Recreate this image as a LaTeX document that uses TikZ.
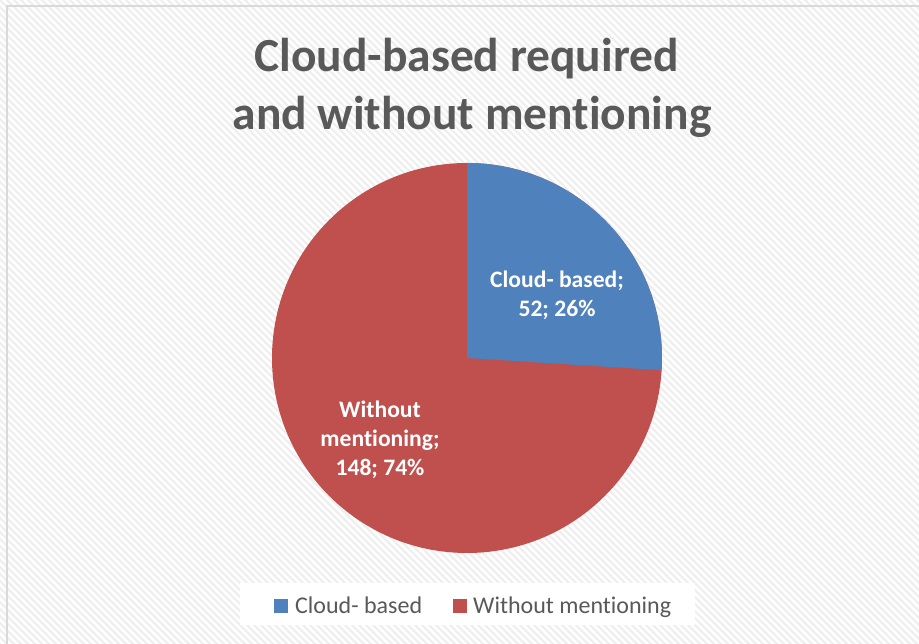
\documentclass[tikz,border=0pt]{standalone}
\usepackage{fontspec}
\setmainfont{Carlito}[RawFeature={-liga;-clig;-dlig;-calt}]
\newcommand{\tiX}{t\kern0pt i}
\definecolor{cblue}{HTML}{4F81BD}
\definecolor{cred}{HTML}{C0504D}
\definecolor{ctext}{HTML}{595959}
\definecolor{hatch}{HTML}{EFEFEF}
\definecolor{frame}{HTML}{D9D9D9}
\begin{document}
\begin{tikzpicture}[x=1pt,y=1pt,
  titletext/.style={inner sep=0pt,anchor=base,text=ctext,font=\fontsize{47.5}{54}\selectfont\bfseries},
  slicetext/.style={inner sep=0pt,anchor=base,text=white,font=\fontsize{23.6}{28}\selectfont\bfseries},
  legtext/.style={inner sep=0pt,anchor=base west,text=ctext,font=\fontsize{24}{28}\selectfont},
  legkey/.style={inner sep=0pt,minimum size=14pt,anchor=south west}]
\useasboundingbox (0,0) rectangle (919,644);
\begin{scope}
\clip (0,0) rectangle (919,644);
\fill[white] (0,0) rectangle (919,644);
\foreach \i in {-651,-644,...,926} {
  \draw[hatch,line width=2.2pt] (\i,651) -- (\i+658,-7);
}
\draw[frame,line width=2pt] (7,638) rectangle (940,-20);
% legend background
\fill[white] (240,19) rectangle (695,61);
\end{scope}
% pie
\coordinate (c) at (467,286);
\fill[cred] (c) circle[radius=195pt];
\fill[cblue] (c) -- ++(90:195pt) arc[start angle=90,end angle=-3.6,radius=195pt] -- cycle;
% title
\node[titletext] (t1) at (466.5,572) {Cloud-based required};
\node[titletext] (t2) at (472,514) {and without men\tiX oning};
% slice labels
\node[slicetext] (a1) at (557,356) {Cloud- based;};
\node[slicetext] (a2) at (557,327) {52; 26\%};
\node[slicetext] (b1) at (380,226) {Without};
\node[slicetext] (b2) at (380,197) {men\tiX oning;};
\node[slicetext] (b3) at (380,168) {148; 74\%};
% legend
\node[legkey,fill=cblue] (k1) at (274,31) {};
\node[legtext] (l1) at (295,30) {Cloud- based};
\node[legkey,fill=cred] (k2) at (453,31) {};
\node[legtext] (l2) at (473,30) {Without men\tiX oning};
\end{tikzpicture}
\end{document}
